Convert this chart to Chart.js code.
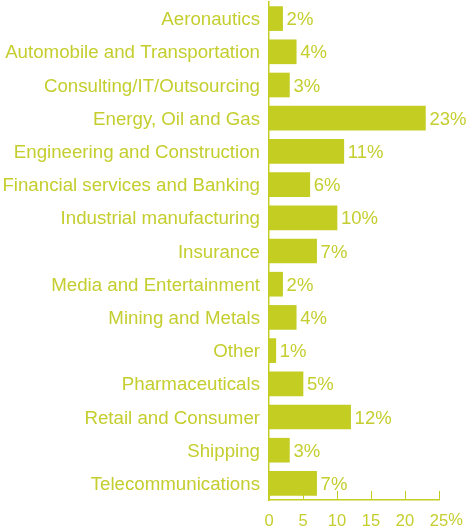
<!DOCTYPE html>
<html>
<head>
<meta charset="utf-8">
<script src="https://cdn.jsdelivr.net/npm/chart.js@4/dist/chart.umd.min.js"></script>
<style>
html,body{margin:0;padding:0;background:#fff;}
#wrap{width:468px;height:531px;position:relative;}
</style>
</head>
<body>
<div id="wrap"><canvas id="c" width="468" height="531"></canvas></div>
<script>
const categories = ["Aeronautics","Automobile and Transportation","Consulting/IT/Outsourcing","Energy, Oil and Gas","Engineering and Construction","Financial services and Banking","Industrial manufacturing","Insurance","Media and Entertainment","Mining and Metals","Other","Pharmaceuticals","Retail and Consumer","Shipping","Telecommunications"];
const shares = [2,4,3,23,11,6,10,7,2,4,1,5,12,3,7];
const xTicks = [0,5,10,15,20,25];

const GREEN = '#c3cd22';
const TEXT = '#c4ce2e';
const FONT = '"Liberation Sans", Arial, sans-serif';
const TICK_SIZE = 16.5;

const innerTicks = {
  id:'innerTicks',
  afterDraw(chart){
    const ctx = chart.ctx, xs = chart.scales.x, a = chart.chartArea;
    ctx.save();
    ctx.strokeStyle = GREEN; ctx.lineWidth = 1;
    xTicks.forEach(v=>{
      const px = Math.round(xs.getPixelForValue(v))+0.5;
      ctx.beginPath(); ctx.moveTo(px, a.bottom); ctx.lineTo(px, a.bottom-9); ctx.stroke();
    });
    // percent sign after the last tick label
    const last = xTicks[xTicks.length-1];
    ctx.font = TICK_SIZE + 'px ' + FONT;
    ctx.fillStyle = TEXT; ctx.textAlign = 'left'; ctx.textBaseline = 'middle';
    const w = ctx.measureText(String(last)).width;
    ctx.fillText('%', xs.getPixelForValue(last) + w/2, a.bottom + 20);
    ctx.restore();
  }
};
const valueLabels = {
  id:'valueLabels',
  afterDatasetsDraw(chart){
    const ctx = chart.ctx;
    ctx.save();
    ctx.fillStyle = TEXT;
    ctx.font = '18.5px ' + FONT;
    ctx.textAlign = 'left'; ctx.textBaseline = 'middle';
    chart.getDatasetMeta(0).data.forEach((bar,i)=>{
      ctx.fillText(shares[i] + '%', bar.x + 4, bar.y + 1.5);
    });
    ctx.restore();
  }
};

new Chart(document.getElementById('c'), {
  type:'bar',
  data:{labels:categories, datasets:[{data:shares, backgroundColor:GREEN, borderWidth:0, barThickness:24}]},
  options:{
    indexAxis:'y', responsive:false, animation:false,
    layout:{padding:{top:2,right:29,left:0,bottom:0}},
    plugins:{legend:{display:false}, tooltip:{enabled:false}},
    scales:{
      x:{min:0,max:25,
        afterBuildTicks(s){ s.ticks = xTicks.map(v=>({value:v})); },
        afterFit(s){ s.height = 31; s.paddingLeft = 0; s.paddingRight = 0; },
        grid:{display:false},
        border:{display:true,color:GREEN,width:1.5},
        ticks:{color:TEXT,font:{family:FONT,size:TICK_SIZE},padding:4,maxRotation:0,autoSkip:false,
          callback:(v)=> String(v)}
      },
      y:{
        afterFit(s){ s.width = 269; s.paddingTop = 0; s.paddingBottom = 0; },
        grid:{display:false,drawTicks:false},
        border:{display:true,color:GREEN,width:1.5},
        ticks:{color:TEXT,font:{family:FONT,size:18.7},padding:9,autoSkip:false,labelOffset:1.5}
      }
    }
  },
  plugins:[innerTicks,valueLabels]
});
</script>
</body>
</html>
